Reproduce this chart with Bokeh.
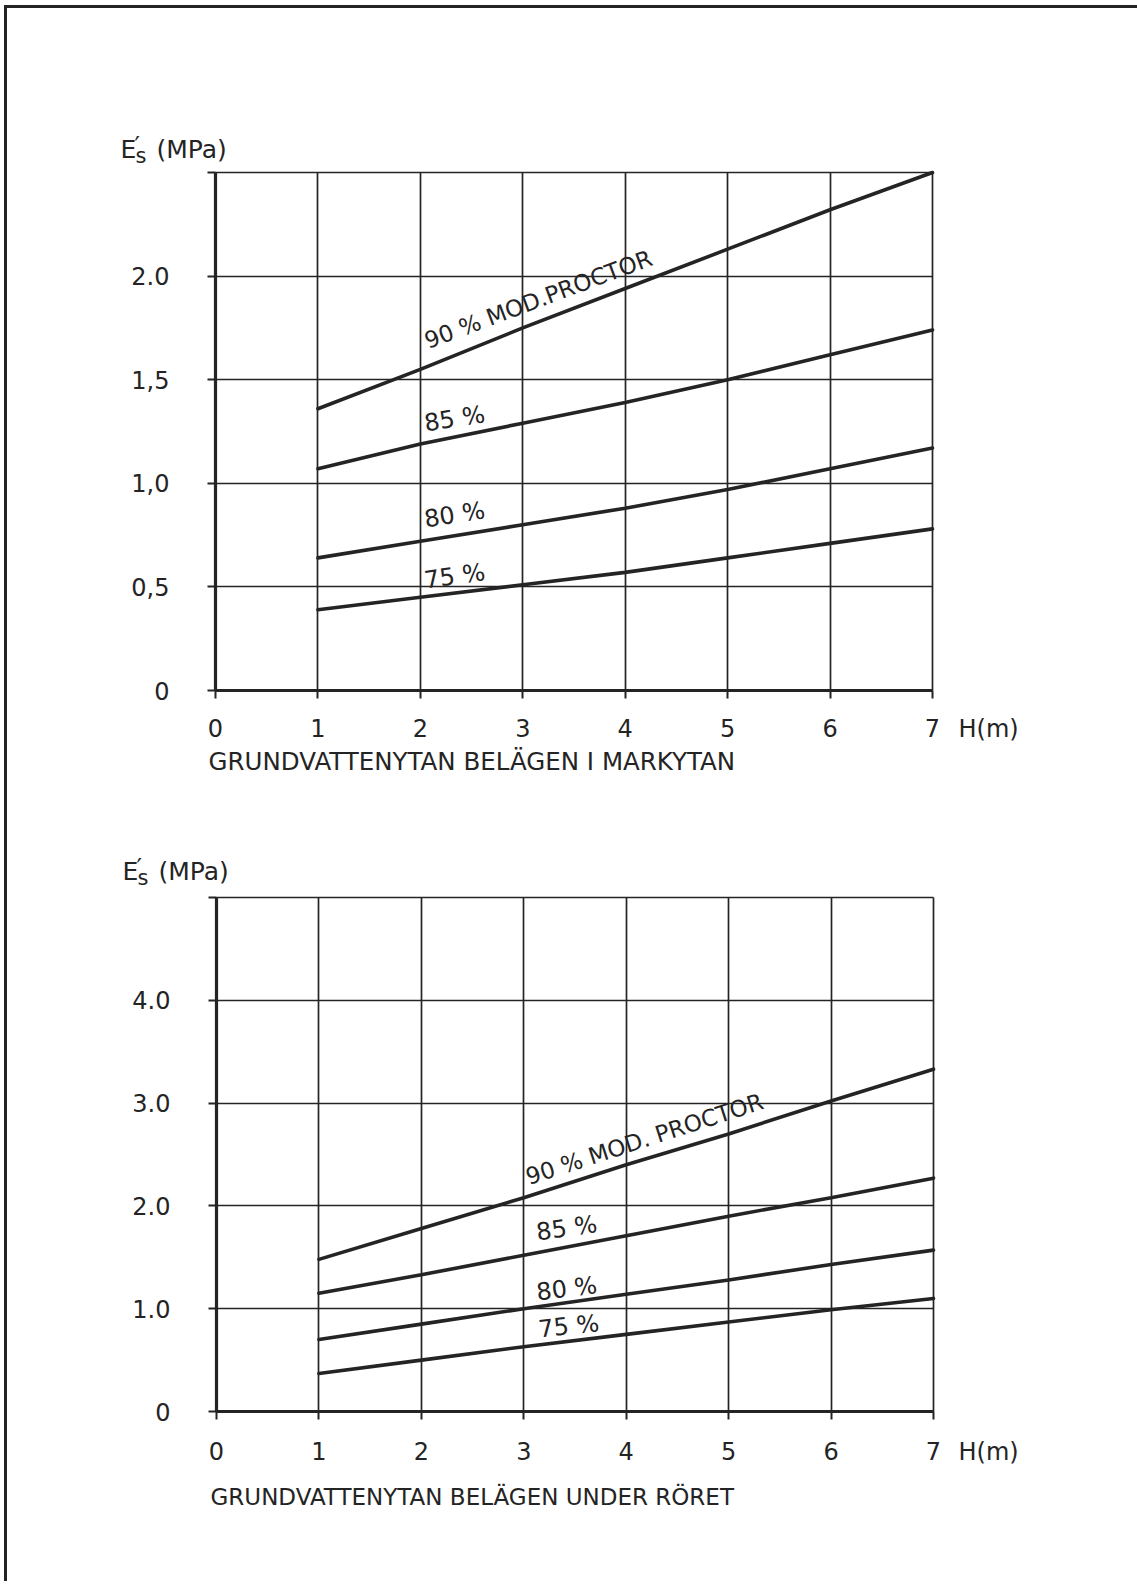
from bokeh.plotting import figure
from bokeh.models import Label, FixedTicker, Range1d
from bokeh.layouts import column
from bokeh.embed import file_html
from bokeh.resources import INLINE

# ---------------- data ----------------
H = [1, 2, 3, 4, 5, 6, 7]

top_90 = [1.36, 1.55, 1.75, 1.94, 2.13, 2.32, 2.50]
top_85 = [1.07, 1.19, 1.29, 1.39, 1.50, 1.62, 1.74]
top_80 = [0.64, 0.72, 0.80, 0.88, 0.97, 1.07, 1.17]
top_75 = [0.39, 0.45, 0.51, 0.57, 0.64, 0.71, 0.78]

bot_90 = [1.48, 1.78, 2.08, 2.40, 2.70, 3.02, 3.33]
bot_85 = [1.15, 1.33, 1.52, 1.71, 1.90, 2.08, 2.27]
bot_80 = [0.70, 0.85, 1.00, 1.14, 1.28, 1.43, 1.57]
bot_75 = [0.37, 0.50, 0.63, 0.75, 0.87, 0.99, 1.10]

x_ticks = [0, 1, 2, 3, 4, 5, 6, 7]
x_tick_labels = ["0", "1", "2", "3", "4", "5", "6", "7"]
top_y_ticks = [0, 0.5, 1.0, 1.5, 2.0, 2.5]
top_y_labels = ["0", "0,5", "1,0", "1,5", "2.0", ""]
bot_y_ticks = [0, 1, 2, 3, 4, 5]
bot_y_labels = ["0", "1.0", "2.0", "3.0", "4.0", ""]

top_line_labels = ["90 % MOD.PROCTOR", "85 %", "80 %", "75 %"]
bot_line_labels = ["90 % MOD. PROCTOR", "85 %", "80 %", "75 %"]

y_title_main = "E"
y_title_prime = "\u2032"
y_title_sub = "s"
y_title_unit = "(MPa)"
x_unit = "H(m)"
top_subtitle = "GRUNDVATTENYTAN BELÄGEN I MARKYTAN"
bot_subtitle = "GRUNDVATTENYTAN BELÄGEN UNDER RÖRET"

INK = "#242424"
FONT = "DejaVu Sans"
BORDER = 3
ML, MT = 4, 5                     # page offset of the drawing frame
OX, OY = ML + BORDER, MT + BORDER  # origin of the figures on the page
FIG_W = 1130
LEFT_PANEL = 100
BOTTOM_PANEL = 60
LIFT = 9                          # baseline correction for text labels


def make_chart(top_y, height, plot_box, ymax, yticks, ylabels, series,
               line_labels, label_spots, title_x, title_y, unit_y,
               subtitle, sub_xy, sub_size, xstand):
    L, R, T, B = plot_box            # page pixels of data (0,0)-(7,ymax)
    sx = (R - L) / 7.0
    sy = (B - T) / ymax
    fl = OX + LEFT_PANEL
    fr = OX + FIG_W
    ft = top_y
    fb = top_y + height - BOTTOM_PANEL
    p = figure(width=FIG_W, height=height, output_backend="svg",
               toolbar_location=None,
               x_range=Range1d((fl - L) / sx, (fr - L) / sx),
               y_range=Range1d((B - fb) / sy, (B - ft) / sy),
               min_border_left=LEFT_PANEL, min_border_right=0,
               min_border_top=0, min_border_bottom=BOTTOM_PANEL)
    p.background_fill_color = "white"
    p.border_fill_color = "white"
    p.outline_line_color = None

    def dx(px):
        return (px - L) / sx

    def dy(py):
        return (B - py) / sy

    xa, ya = p.xaxis[0], p.yaxis[0]
    for ax, ticks, labels, bnd in ((xa, x_ticks, x_tick_labels, (0, 7)),
                                   (ya, yticks, ylabels, (0, ymax))):
        ax.ticker = FixedTicker(ticks=ticks)
        ax.major_label_overrides = {t: l for t, l in zip(ticks, labels)}
        ax.bounds = bnd
        ax.fixed_location = 0
        ax.minor_tick_line_color = None
        ax.major_tick_in = 0
        ax.major_tick_out = 8
        ax.major_tick_line_color = INK
        ax.major_tick_line_width = 2
        ax.axis_line_color = INK
        ax.axis_line_width = 3.2
        ax.major_label_text_font = FONT
        ax.major_label_text_font_size = "24px"
        ax.major_label_text_color = INK
    ya.major_label_standoff = 38
    xa.major_label_standoff = xstand

    xg, yg = p.xgrid[0], p.ygrid[0]
    xg.ticker = FixedTicker(ticks=x_ticks)
    yg.ticker = FixedTicker(ticks=yticks)
    if "cross_bounds" in xg.properties():
        for g, b, cb in ((xg, (0, 7), (0, ymax)), (yg, (0, ymax), (0, 7))):
            g.bounds = b
            g.cross_bounds = cb
            g.grid_line_color = INK
            g.grid_line_width = 1.7
            g.grid_line_alpha = 1.0
    else:
        xg.grid_line_color = None
        yg.grid_line_color = None
        p.multi_line([[t, t] for t in x_ticks], [[0, ymax] for _ in x_ticks],
                     line_color=INK, line_width=1.7)
        p.multi_line([[0, 7] for _ in yticks], [[t, t] for t in yticks],
                     line_color=INK, line_width=1.7)

    for ys in series:
        p.line(H, ys, line_width=3.6, line_color=INK, line_cap="round")

    for i, (txt, (px, py, ang)) in enumerate(zip(line_labels, label_spots)):
        p.add_layout(Label(x=dx(px), y=dy(py - LIFT + 1), text=txt, angle=ang,
                           angle_units="deg", text_font=FONT,
                           text_font_size="23px" if i == 0 else "24px",
                           text_color=INK, text_baseline="alphabetic"))

    def lab(px, py, text, size, baseline="alphabetic"):
        lift = LIFT if baseline == "alphabetic" else 0
        p.add_layout(Label(x=dx(px), y=dy(py - lift), text=text, text_font=FONT,
                           text_font_size=size, text_color=INK,
                           text_baseline=baseline))

    # y-axis title  E's (MPa)
    lab(title_x, title_y, y_title_main, "25px")
    lab(title_x + 14, title_y - 4, y_title_prime, "24px")
    lab(title_x + 15, title_y + 6, y_title_sub, "21px")
    lab(title_x + 36, title_y, y_title_unit, "25px")
    # x unit
    lab(958, unit_y, x_unit, "24px", "middle")
    # subtitle
    lab(sub_xy[0], sub_xy[1], subtitle, sub_size)
    return p


H1 = 842
H2 = 731

p1 = make_chart(
    top_y=OY, height=H1, plot_box=(215, 932, 172, 690), ymax=2.5,
    yticks=top_y_ticks, ylabels=top_y_labels,
    series=[top_90, top_85, top_80, top_75], line_labels=top_line_labels,
    label_spots=[(425, 349, 20.5), (424, 431, 9), (424, 527, 9), (424, 588, 8)],
    title_x=120, title_y=158, unit_y=728,
    subtitle=top_subtitle, sub_xy=(208, 770), sub_size="24.5px", xstand=20)

p2 = make_chart(
    top_y=OY + H1, height=H2, plot_box=(216, 933, 897, 1411), ymax=5.0,
    yticks=bot_y_ticks, ylabels=bot_y_labels,
    series=[bot_90, bot_85, bot_80, bot_75], line_labels=bot_line_labels,
    label_spots=[(526, 1185, 18), (536, 1240, 8), (536, 1300, 7), (538, 1337, 6)],
    title_x=122, title_y=880, unit_y=1451,
    subtitle=bot_subtitle, sub_xy=(210, 1505), sub_size="23px", xstand=22)

lay = column(p1, p2, spacing=0,
             styles={"border-top": f"{BORDER}px solid {INK}",
                     "border-left": f"{BORDER}px solid {INK}",
                     "margin-left": f"{ML}px", "margin-top": f"{MT}px"})

open("out.html", "w").write(file_html(lay, INLINE))
